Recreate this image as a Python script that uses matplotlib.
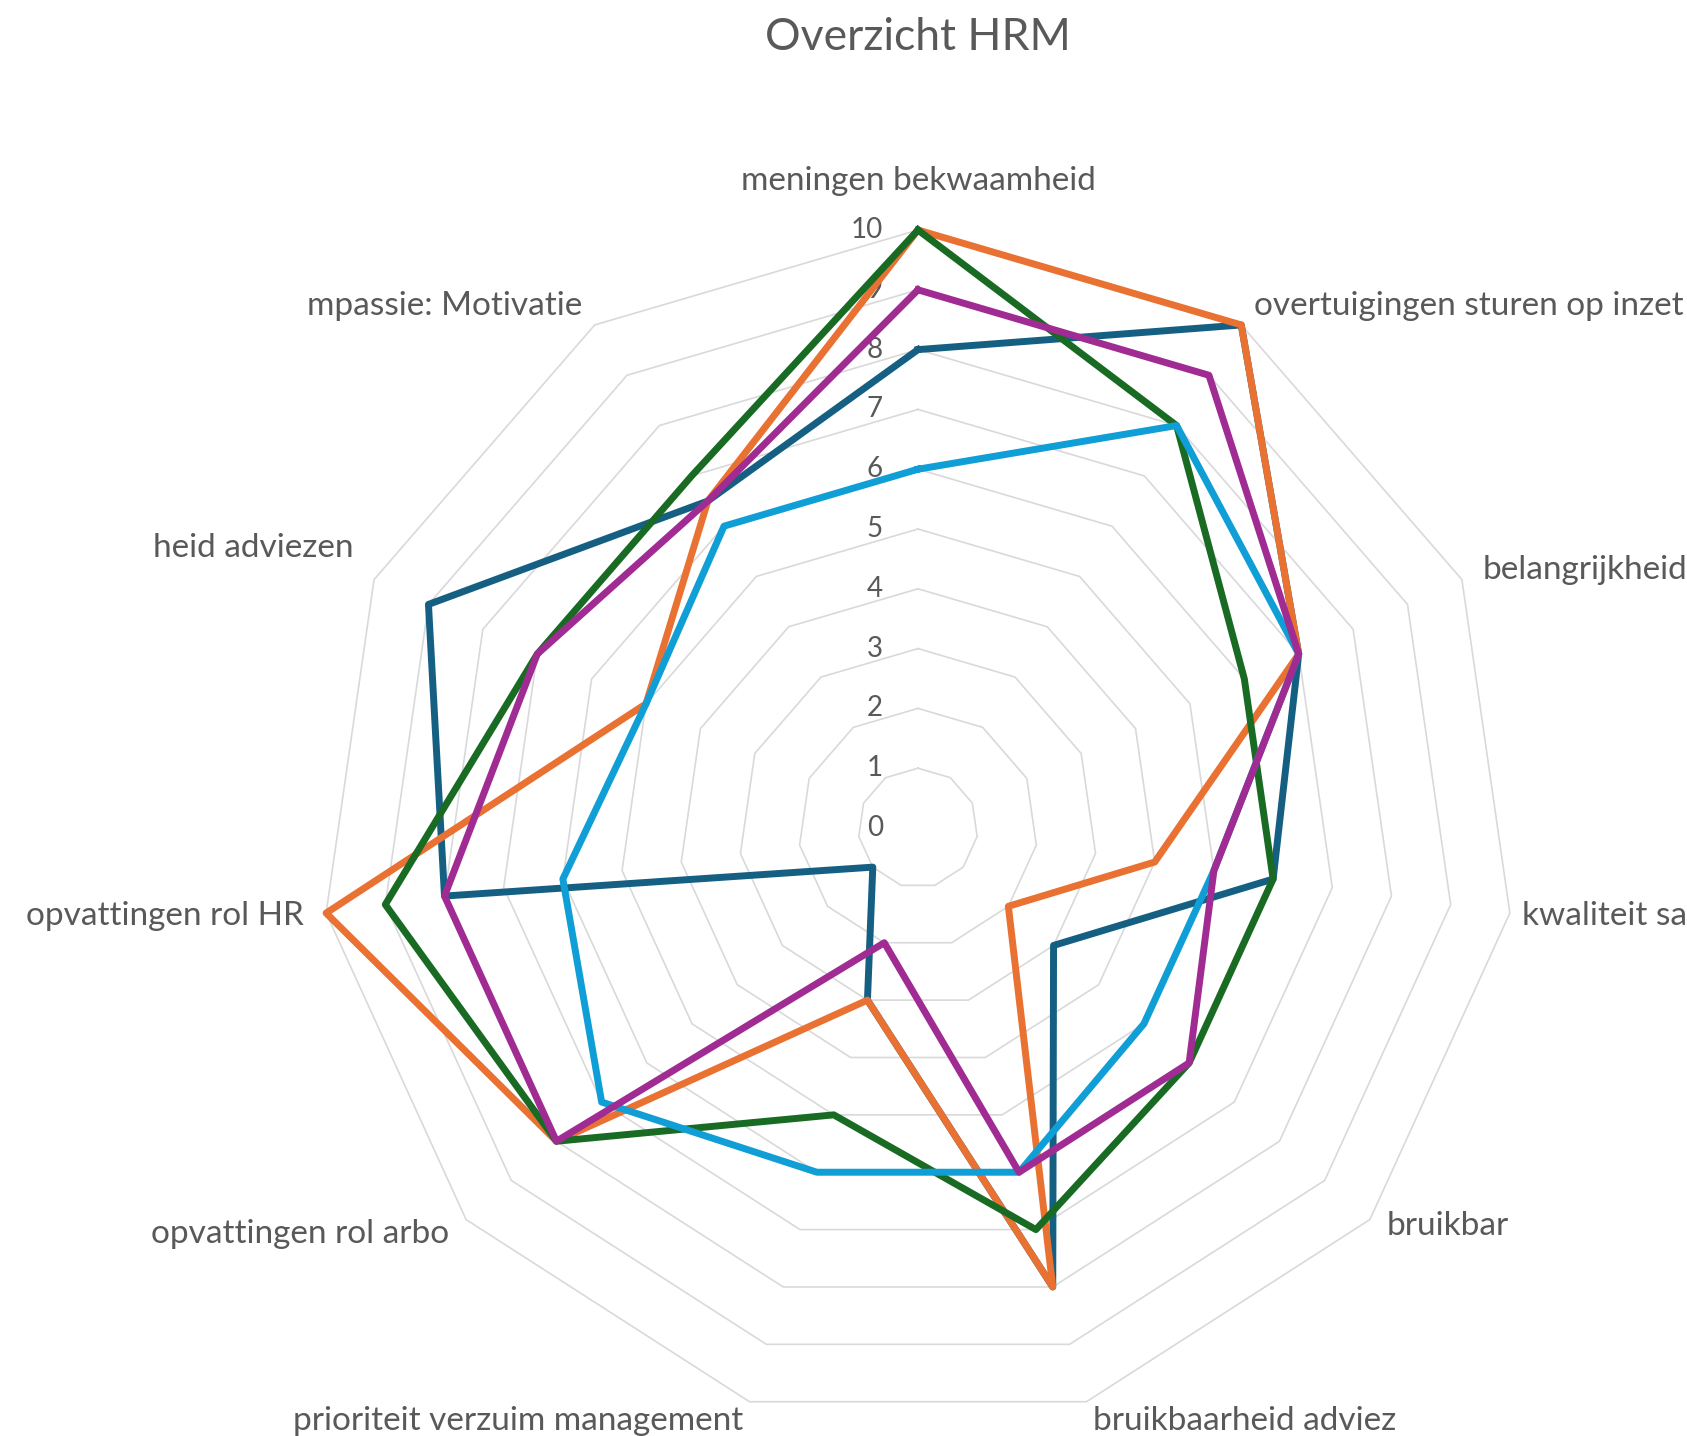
import numpy as np
import matplotlib
matplotlib.use('Agg')
import matplotlib.pyplot as plt
from matplotlib.transforms import offset_copy

# --- DATA (met de klok mee vanaf boven) ---
categorieen = [
    'meningen bekwaamheid',
    'overtuigingen sturen op inzet',
    'belangrijkheid',
    'kwaliteit sa',
    'bruikbar',
    'bruikbaarheid adviez',
    'prioriteit verzuim management',
    'opvattingen rol arbo',
    'opvattingen rol HR',
    'heid adviezen',
    'mpassie: Motivatie',
]
schaal_labels = ['0', '1', '2', '3', '4', '5', '6', '7', '8', '9', '10']

reeks_1 = [8, 10, 7, 6, 3, 8, 3, 1, 8, 9, 6.5]      # donkerblauw
reeks_2 = [10, 10, 7, 4, 2, 8, 3, 8, 10, 5, 6.5]    # oranje
reeks_3 = [10, 8, 6, 6, 6, 7, 5, 8, 9, 7, 7]        # groen
reeks_4 = [6, 8, 7, 5, 5, 6, 6, 7, 6, 5, 6]         # lichtblauw
reeks_5 = [9, 9, 7, 5, 6, 6, 2, 8, 8, 7, 6.5]       # paars

# --- OPMAAK ---
KLEUREN = ['#156082', '#E97132', '#196B24', '#0F9ED5', '#A02B93']
TEKSTKLEUR = '#595959'
RASTERKLEUR = '#D9D9D9'

plt.rcParams['font.family'] = ['Lato', 'DejaVu Sans']

fig = plt.figure(figsize=(16.87, 14.36), dpi=100)
ax = fig.add_axes([0.1897, 0.00696, 0.7089, 0.8329], projection='polar')
ax.set_theta_zero_location('N')
ax.set_theta_direction(-1)
ax.set_ylim(0, 10)
ax.set_xticks([])
ax.set_yticks([])
ax.grid(False)
ax.spines['polar'].set_visible(False)
ax.patch.set_alpha(0)

n = len(categorieen)
hoeken = np.linspace(0, 2 * np.pi, n, endpoint=False)
hoeken_dicht = np.append(hoeken, hoeken[0])

# ringen (veelhoeken) van het raster
for niveau in range(1, 11):
    ax.plot(hoeken_dicht, [niveau] * (n + 1), color=RASTERKLEUR, lw=1.2,
            zorder=1, clip_on=False)

# schaalwaarden
trans_schaal = offset_copy(ax.transData, fig=fig, x=-35, y=0, units='dots')
for niveau, tekst in enumerate(schaal_labels):
    ax.text(0, niveau, tekst, transform=trans_schaal, ha='right', va='center',
            fontsize=20, color=TEKSTKLEUR, zorder=2)

# reeksen
for waarden, kleur in zip([reeks_1, reeks_2, reeks_3, reeks_4, reeks_5], KLEUREN):
    ax.plot(hoeken_dicht, list(waarden) + [waarden[0]], color=kleur, lw=5.0,
            solid_joinstyle='round', zorder=3, clip_on=False)

# categorielabels (kleine verschuivingen in pixels)
LABEL_R = 10.38
verschuiving = {3: (-10, 0), 4: (0, 8), 5: (0, 3), 6: (0, 3), 9: (0, 22)}
for i, (hoek, label) in enumerate(zip(hoeken, categorieen)):
    dx, dy = verschuiving.get(i, (0, 0))
    trans = offset_copy(ax.transData, fig=fig, x=dx, y=dy, units='dots')
    if i == 0:
        ax.text(hoek, 10.82, label, transform=trans, ha='center', va='center',
                fontsize=24, color=TEKSTKLEUR, clip_on=False)
    else:
        ha = 'left' if np.sin(hoek) > 0 else 'right'
        ax.text(hoek, LABEL_R, label, transform=trans, ha=ha, va='center',
                fontsize=24, color=TEKSTKLEUR, clip_on=False)

fig.text(918 / 1687, 1 - 38 / 1436, 'Overzicht HRM', ha='center', va='center',
         fontsize=32, color=TEKSTKLEUR)

fig.savefig('out.png', dpi=100, facecolor='white')
